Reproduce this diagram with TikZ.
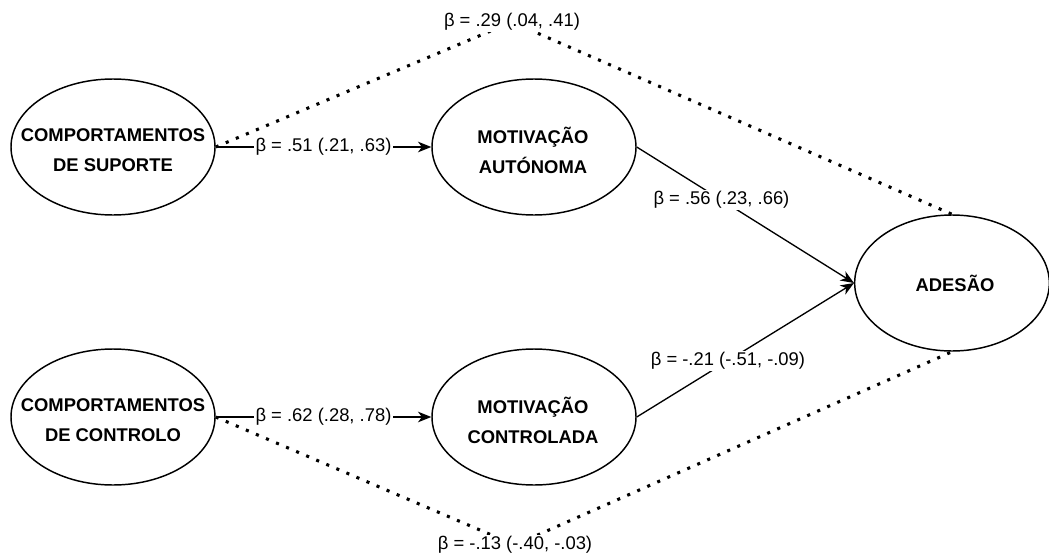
\documentclass[tikz,border=0pt]{standalone}
\usepackage{fontspec}
\setmainfont{Liberation Sans}
\usetikzlibrary{shapes.geometric,arrows.meta}

\tikzset{
  latent/.style={ellipse, draw, line width=1.1pt, minimum width=153pt, minimum height=102pt, inner sep=0pt},
  vname/.style={align=center, font=\fontsize{13.8}{22.5}\selectfont\bfseries},
  coef/.style={fill=white, inner sep=1pt, font=\fontsize{13.8}{16}\selectfont},
  direct/.style={line width=1pt, -{Stealth[length=10pt,width=8pt,inset=3pt]}},
  indirect/.style={line width=2.3pt, dash pattern=on 2.3pt off 5.9pt},
}

\begin{document}
\begin{tikzpicture}[x=0.75pt, y=-0.75pt]
  \useasboundingbox (0,0) rectangle (1049,553);
  % variaveis latentes (coordenadas em px da figura original)
  \node[latent] (sup) at (113,147) {};
  \node[latent] (con) at (113,417) {};
  \node[latent] (aut) at (534,147) {};
  \node[latent] (ctl) at (534,417) {};
  \node[latent, minimum width=146pt] (ade) at (952,283) {};
  \node[vname] (sup-t) at (113,150) {COMPORTAMENTOS\\DE SUPORTE};
  \node[vname] (con-t) at (113,420) {COMPORTAMENTOS\\DE CONTROLO};
  \node[vname] (aut-t) at (533,150) {MOTIVAÇÃO\\AUTÓNOMA};
  \node[vname] (ctl-t) at (533,420) {MOTIVAÇÃO\\CONTROLADA};
  \node[vname] (ade-t) at (955,283) {ADESÃO};
  % efeitos directos
  \draw[direct] (sup.east) -- node[coef] (b51) {β = .51 (.21, .63)} (aut.west);
  \draw[direct] (con.east) -- node[coef] (b62) {β = .62 (.28, .78)} (ctl.west);
  \draw[direct] (aut.east) -- node[coef, pos=0.39] (b56) {β = .56 (.23, .66)} (ade.west);
  \draw[direct] (ctl.east) -- node[coef, pos=0.42] (b21) {β = -.21 (-.51, -.09)} (ade.west);
  % efeitos de VI sobre adesao (pontilhado)
  \draw[indirect] (sup.east) -- (512,22) node[coef] (b29) {β = .29 (.04, .41)} -- (ade.north);
  \draw[indirect] (con.east) -- (515,545) node[coef] (b13) {β = -.13 (-.40, -.03)} -- (ade.south);
\end{tikzpicture}
\end{document}
